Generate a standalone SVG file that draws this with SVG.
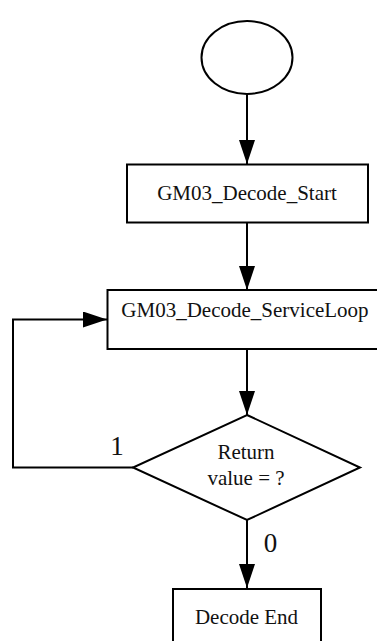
<svg xmlns="http://www.w3.org/2000/svg" width="377" height="641" viewBox="0 0 377 641">
  <style>
    .shape { fill: #fff; stroke: #000; stroke-width: 2; }
    .edge { fill: none; stroke: #000; stroke-width: 2; }
    .label { font-family: "Liberation Serif", "Times New Roman", serif; font-size: 21px; fill: #111; text-anchor: middle; }
    .branch { font-family: "Liberation Serif", "Times New Roman", serif; font-size: 27px; fill: #111; text-anchor: middle; }
  </style>
  <defs>
    <marker id="arrow" markerUnits="userSpaceOnUse" markerWidth="24" markerHeight="16" refX="24" refY="8" orient="auto">
      <path d="M0,0 L24,8 L0,16 Z" fill="#000"/>
    </marker>
  </defs>
  <rect width="377" height="641" fill="#fff"/>

  <g id="connectors">
    <line class="edge" x1="247" y1="94.5" x2="247" y2="164" marker-end="url(#arrow)"/>
    <line class="edge" x1="247" y1="223" x2="247" y2="290" marker-end="url(#arrow)"/>
    <line class="edge" x1="247" y1="349" x2="247" y2="415" marker-end="url(#arrow)"/>
    <polyline class="edge" points="133,467.5 13,467.5 13,319.5 107,319.5" marker-end="url(#arrow)"/>
    <line class="edge" x1="247" y1="520" x2="247" y2="588" marker-end="url(#arrow)"/>
    <text class="branch" x="117" y="455">1</text>
    <text class="branch" x="270.5" y="552">0</text>
  </g>

  <g id="start">
    <ellipse class="shape" cx="247" cy="57.5" rx="45.5" ry="36.5"/>
  </g>

  <g id="decode-start">
    <rect class="shape" x="127" y="164.5" width="241" height="58"/>
    <text class="label" x="247" y="199.5">GM03_Decode_Start</text>
  </g>

  <g id="service-loop">
    <rect class="shape" x="107.5" y="290" width="280" height="59"/>
    <text class="label" x="245" y="317">GM03_Decode_ServiceLoop</text>
  </g>

  <g id="return-check">
    <polygon class="shape" points="247,415 360,467.5 247,520 133,467.5"/>
    <text class="label" x="246" y="458.5">Return</text>
    <text class="label" x="246" y="485">value = ?</text>
  </g>

  <g id="decode-end">
    <rect class="shape" x="173" y="589" width="148" height="62"/>
    <text class="label" x="246.5" y="624">Decode End</text>
  </g>
</svg>
